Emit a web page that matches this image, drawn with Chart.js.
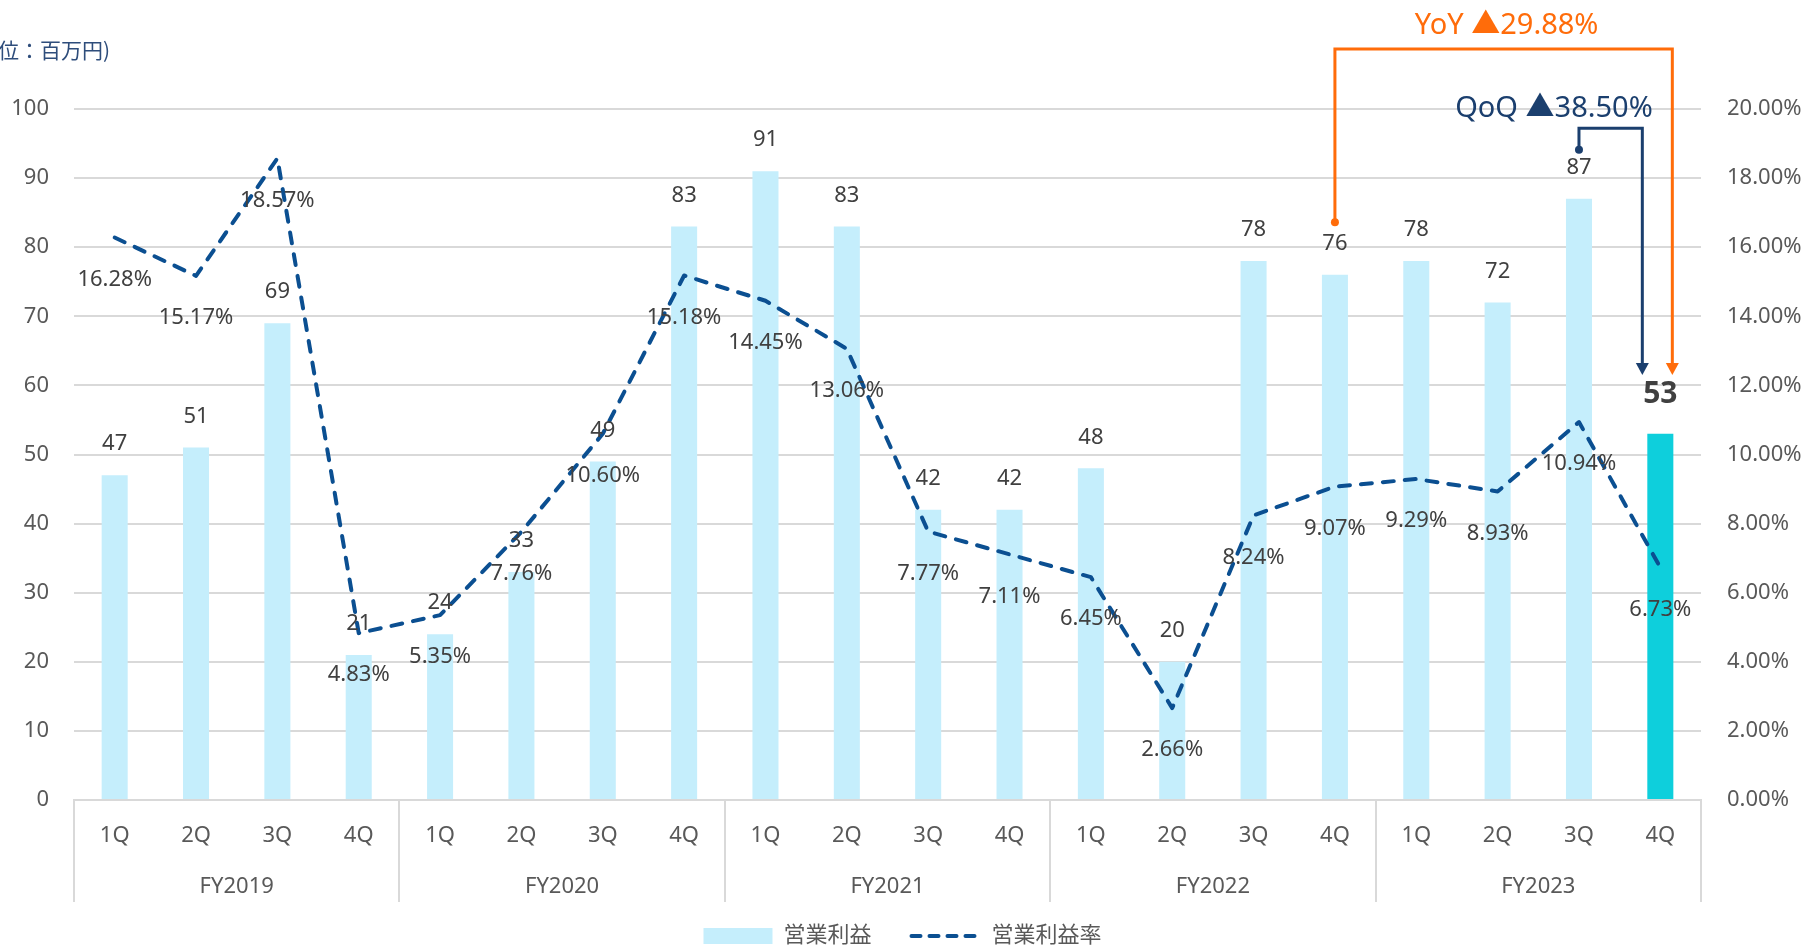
<!DOCTYPE html>
<html lang="ja">
<head>
<meta charset="utf-8">
<title>営業利益・営業利益率</title>
<script src="https://cdn.jsdelivr.net/npm/chart.js@4.4.1/dist/chart.umd.min.js"></script>
<style>
  html, body { margin: 0; padding: 0; background: #fff; }
  #wrap { width: 1805px; height: 947px; position: relative; }
</style>
</head>
<body>
<div id="wrap"><canvas id="profitChart"></canvas></div>
<script>
// quarters (x axis), fiscal year groups under them
const quarters = ["1Q", "2Q", "3Q", "4Q", "1Q", "2Q", "3Q", "4Q", "1Q", "2Q", "3Q", "4Q",
  "1Q", "2Q", "3Q", "4Q", "1Q", "2Q", "3Q", "4Q"];
const fiscalYears = ["FY2019", "FY2020", "FY2021", "FY2022", "FY2023"];

// 営業利益 (百万円)
const operatingProfit = [47, 51, 69, 21, 24, 33, 49, 83, 91, 83, 42, 42, 48, 20, 78, 76, 78, 72, 87, 53];
// 営業利益率 (%)
const operatingMargin = [16.28, 15.17, 18.57, 4.83, 5.35, 7.76, 10.60, 15.18, 14.45, 13.06,
  7.77, 7.11, 6.45, 2.66, 8.24, 9.07, 9.29, 8.93, 10.94, 6.73];

const unitLabel = "(単位：百万円)";
const yoyLabel = "YoY ▲29.88%";
const qoqLabel = "QoQ ▲38.50%";

const FONT = "'Noto Sans', 'Noto Sans CJK JP', sans-serif";
const barColor = "#c5eefc";
const barHighlight = "#0ecfdc";
const lineColor = "#0b4f91";
const orange = "#ff6c0a";
const navy = "#1b3f6e";
const gridColor = "#d9d9d9";

const barColors = operatingProfit.map((v, i) => i === operatingProfit.length - 1 ? barHighlight : barColor);

function arrowDown(ctx, x, tipY, color) {
  ctx.fillStyle = color;
  ctx.beginPath();
  ctx.moveTo(x - 6.5, tipY - 12);
  ctx.lineTo(x + 6.5, tipY - 12);
  ctx.lineTo(x, tipY);
  ctx.closePath();
  ctx.fill();
}

function dot(ctx, x, y, color) {
  ctx.fillStyle = color;
  ctx.beginPath();
  ctx.arc(x, y, 4, 0, Math.PI * 2);
  ctx.fill();
}

const extrasPlugin = {
  id: "extras",
  afterDatasetsDraw(chart) {
    const { ctx, chartArea, scales } = chart;
    const x = scales.x, y = scales.y;
    ctx.save();

    // value labels on bars
    ctx.textAlign = "center";
    ctx.textBaseline = "middle";
    chart.getDatasetMeta(0).data.forEach((bar, i) => {
      const last = i === operatingProfit.length - 1;
      ctx.font = (last ? "bold 30px " : "22px ") + FONT;
      ctx.fillStyle = "#404040";
      ctx.fillText(String(operatingProfit[i]), bar.x, bar.y - (last ? 39 : 31));
    });

    // percentage labels under the line points
    ctx.font = "22px " + FONT;
    chart.getDatasetMeta(1).data.forEach((pt, i) => {
      ctx.fillStyle = "#404040";
      ctx.fillText(operatingMargin[i].toFixed(2) + "%", pt.x, pt.y + 42);
    });

    // fiscal year groups + separators below the axis
    ctx.strokeStyle = gridColor;
    ctx.lineWidth = 2;
    for (let g = 0; g <= fiscalYears.length; g++) {
      const sx = Math.round(x.getPixelForValue(g * 4 - 0.5));
      ctx.beginPath();
      ctx.moveTo(sx, chartArea.bottom);
      ctx.lineTo(sx, chartArea.bottom + 102);
      ctx.stroke();
    }
    ctx.fillStyle = "#595959";
    ctx.font = "22px " + FONT;
    fiscalYears.forEach((fy, g) => {
      const cx = (x.getPixelForValue(g * 4) + x.getPixelForValue(g * 4 + 3)) / 2;
      ctx.fillText(fy, cx, chartArea.bottom + 87);
    });

    // unit label (partly outside the canvas on the left)
    ctx.textAlign = "right";
    ctx.fillStyle = "#2e4d7b";
    ctx.font = "21px 'Noto Sans CJK JP', sans-serif";
    ctx.fillText(unitLabel, 110, 50);

    // YoY bracket
    const last = operatingProfit.length - 1;
    const yoyL = x.getPixelForValue(last - 4);
    const yoyR = x.getPixelForValue(last) + 12;
    const yoyTop = y.getPixelForValue(108.7);
    const tipY = y.getPixelForValue(61.5);
    ctx.lineWidth = 3;
    ctx.lineJoin = "miter";
    ctx.strokeStyle = orange;
    ctx.beginPath();
    ctx.moveTo(yoyL, y.getPixelForValue(83.6));
    ctx.lineTo(yoyL, yoyTop);
    ctx.lineTo(yoyR, yoyTop);
    ctx.lineTo(yoyR, tipY - 11);
    ctx.stroke();
    dot(ctx, yoyL, y.getPixelForValue(83.6), orange);
    arrowDown(ctx, yoyR, tipY, orange);
    ctx.textAlign = "center";
    ctx.fillStyle = orange;
    ctx.font = "29px " + FONT;
    ctx.fillText(yoyLabel, (yoyL + yoyR) / 2 + 3, y.getPixelForValue(112));

    // QoQ bracket
    const qoqL = x.getPixelForValue(last - 1);
    const qoqR = x.getPixelForValue(last) - 18;
    const qoqTop = y.getPixelForValue(97.2);
    ctx.strokeStyle = navy;
    ctx.beginPath();
    ctx.moveTo(qoqL, y.getPixelForValue(94.1));
    ctx.lineTo(qoqL, qoqTop);
    ctx.lineTo(qoqR, qoqTop);
    ctx.lineTo(qoqR, tipY - 11);
    ctx.stroke();
    dot(ctx, qoqL, y.getPixelForValue(94.1), navy);
    arrowDown(ctx, qoqR, tipY, navy);
    ctx.fillStyle = navy;
    ctx.fillText(qoqLabel, qoqL - 25, y.getPixelForValue(100.1));

    ctx.restore();
  }
};

new Chart(document.getElementById("profitChart").getContext("2d"), {
  data: {
    labels: quarters,
    datasets: [
      {
        type: "bar",
        label: "営業利益",
        data: operatingProfit,
        backgroundColor: barColors,
        barPercentage: 0.32,
        categoryPercentage: 1,
        yAxisID: "y",
        order: 2,
      },
      {
        type: "line",
        label: "営業利益率",
        data: operatingMargin,
        borderColor: lineColor,
        borderWidth: 4,
        borderDash: [11, 11],
        borderCapStyle: "round",
        borderJoinStyle: "round",
        pointRadius: 0,
        pointHoverRadius: 0,
        tension: 0,
        fill: false,
        yAxisID: "y1",
        order: 1,
      },
    ],
  },
  options: {
    responsive: true,
    maintainAspectRatio: false,
    animation: false,
    layout: { padding: { top: 109, left: 0, right: 0, bottom: -10 } },
    plugins: {
      tooltip: { enabled: false },
      legend: {
        position: "bottom",
        labels: {
          usePointStyle: true,
          pointStyleWidth: 69,
          boxHeight: 16,
          padding: 40,
          color: "#595959",
          font: { size: 22, family: FONT },
          sort: (a, b) => a.datasetIndex - b.datasetIndex,
          generateLabels: (chart) => {
            const items = Chart.defaults.plugins.legend.labels.generateLabels(chart);
            items.forEach((it) => {
              if (it.datasetIndex === 0) {
                it.pointStyle = "rect";
                it.fillStyle = barColor;
                it.strokeStyle = barColor;
                it.lineWidth = 0;
              } else {
                it.pointStyle = "line";
                it.strokeStyle = lineColor;
                it.lineWidth = 4;
                it.lineDash = [9, 9];
                it.lineCap = "round";
              }
            });
            return items;
          },
        },
      },
    },
    scales: {
      x: {
        grid: { display: false, drawTicks: false },
        border: { display: true, color: gridColor, width: 2 },
        ticks: { color: "#595959", font: { size: 22, family: FONT }, padding: 23, maxRotation: 0, autoSkip: false },
        afterFit: (scale) => { scale.height = 85; },
      },
      y: {
        position: "left",
        min: 0,
        max: 100,
        ticks: { stepSize: 10, color: "#595959", font: { size: 22, family: FONT }, padding: 25 },
        grid: { color: gridColor, lineWidth: 2, drawTicks: false },
        border: { display: false },
        afterFit: (scale) => { scale.width = 74; },
      },
      y1: {
        position: "right",
        min: 0,
        max: 20,
        ticks: {
          stepSize: 2,
          color: "#595959",
          font: { size: 22, family: FONT },
          padding: 26,
          callback: (v) => v.toFixed(2) + "%",
        },
        grid: { display: false, drawTicks: false },
        border: { display: false },
        afterFit: (scale) => { scale.width = 104; },
      },
    },
  },
  plugins: [extrasPlugin],
});
</script>
</body>
</html>
